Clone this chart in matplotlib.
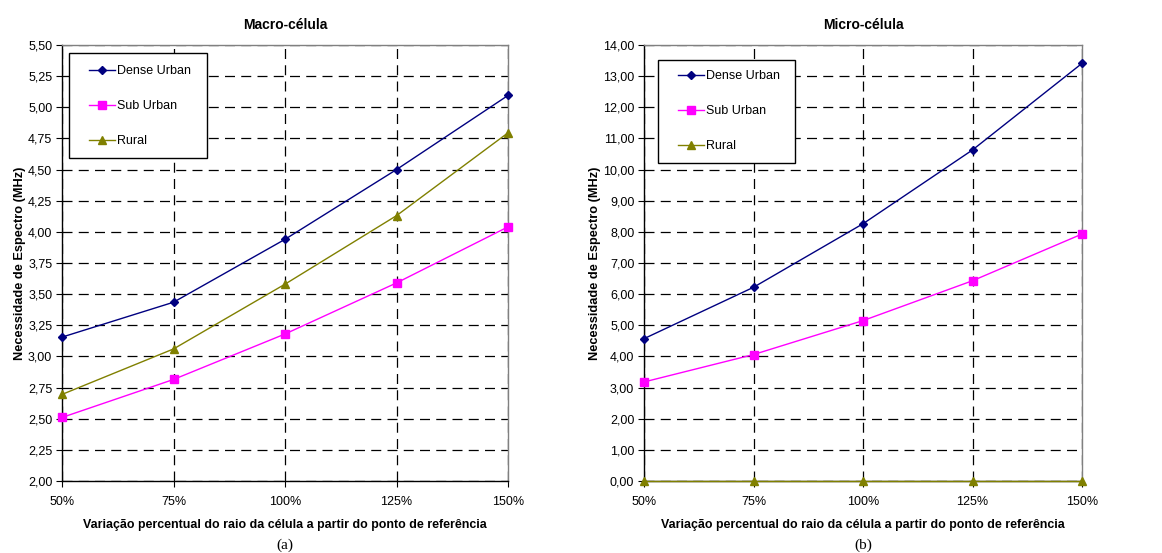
import matplotlib
matplotlib.use("Agg")
import matplotlib.pyplot as plt
from matplotlib.ticker import FuncFormatter, FixedLocator
from matplotlib.legend_handler import HandlerLine2D
from matplotlib.lines import Line2D
from matplotlib.patches import Rectangle

plt.rcParams['font.family'] = ['Liberation Sans', 'DejaVu Sans']

# Cell radius variation relative to the reference point
categories = ["50%", "75%", "100%", "125%", "150%"]

# Spectrum requirement (MHz) - macro cell
macro_dense_urban = [3.155, 3.435, 3.94, 4.50, 5.095]
macro_sub_urban = [2.51, 2.815, 3.18, 3.59, 4.04]
macro_rural = [2.695, 3.06, 3.58, 4.13, 4.795]

# Spectrum requirement (MHz) - micro cell
micro_dense_urban = [4.57, 6.22, 8.26, 10.63, 13.41]
micro_sub_urban = [3.18, 4.06, 5.15, 6.43, 7.93]
micro_rural = [0.0, 0.0, 0.0, 0.0, 0.0]

macro_yticks = [2.00, 2.25, 2.50, 2.75, 3.00, 3.25, 3.50, 3.75, 4.00, 4.25,
                4.50, 4.75, 5.00, 5.25, 5.50]
micro_yticks = list(range(0, 15))

series_names = ["Dense Urban", "Sub Urban", "Rural"]
colors = ["#000080", "#FF00FF", "#808000"]
markers = ["D", "s", "^"]
msizes = [4.5, 6, 5.5]

fig = plt.figure(figsize=(11.62, 5.53), dpi=100)
ax1 = fig.add_axes([62 / 1162, 72 / 553, 446 / 1162, 436 / 553])
ax2 = fig.add_axes([644 / 1162, 72 / 553, 438 / 1162, 436 / 553])

comma = FuncFormatter(lambda v, p: f"{v:.2f}".replace(".", ","))


def draw(ax, series, yticks, title, legend_anchor, box, caption):
    x = list(range(len(categories)))
    for vals, name, c, m, ms in zip(series, series_names, colors, markers, msizes):
        ax.plot(x, vals, color=c, marker=m, markersize=ms, linewidth=1.0,
                label=name, clip_on=False, zorder=3)
    ax.set_xlim(0, len(categories) - 1)
    ax.set_ylim(yticks[0], yticks[-1])
    ax.xaxis.set_major_locator(FixedLocator(x))
    ax.set_xticklabels(categories)
    ax.yaxis.set_major_locator(FixedLocator(yticks))
    ax.yaxis.set_major_formatter(comma)
    ax.grid(True, color="black", linestyle=(0, (8, 5)), linewidth=0.9)
    ax.set_axisbelow(True)
    for s in ("top", "right"):
        ax.spines[s].set_color("#808080")
        ax.spines[s].set_linewidth(1.0)
    for s in ("left", "bottom"):
        ax.spines[s].set_color("black")
        ax.spines[s].set_linewidth(1.0)
    ax.tick_params(axis="both", labelsize=9, direction="out", length=4,
                   width=0.8, color="black")
    ax.tick_params(axis="x", pad=6.5)
    ax.tick_params(axis="y", pad=3)
    ax.set_title(title, fontsize=10, fontweight="bold", pad=11.8)
    ax.set_xlabel("Variação percentual do raio da célula a partir do ponto de referência",
                  fontsize=8.9, fontweight="bold", labelpad=8.5)
    ax.set_ylabel("Necessidade de Espectro (MHz)", fontsize=9.2,
                  fontweight="bold", labelpad=1.5)

    # legend frame drawn as a plain rectangle, entries placed inside it
    x0, y0, x1, y1 = box
    ax.add_patch(Rectangle((x0, y0), x1 - x0, y1 - y0, transform=ax.transAxes,
                           facecolor="white", edgecolor="black", linewidth=1.0,
                           zorder=4, clip_on=False))
    leg = ax.legend(loc="center left", bbox_to_anchor=legend_anchor,
                    fontsize=9, frameon=False, borderaxespad=0, borderpad=0,
                    labelspacing=1.85, handlelength=2.1, handletextpad=0.15,
                    handler_map={Line2D: HandlerLine2D()})
    leg.set_zorder(5)
    ax.text(0.5, -0.148, caption, transform=ax.transAxes, ha="center",
            va="center", fontsize=11, family=["Liberation Serif", "DejaVu Serif"])


draw(ax1, [macro_dense_urban, macro_sub_urban, macro_rural], macro_yticks,
     "Macro-célula", (0.0605, 0.860), (0.0157, 0.7408, 0.325, 0.9817), "(a)")
draw(ax2, [micro_dense_urban, micro_sub_urban, micro_rural], micro_yticks,
     "Micro-célula", (0.0776, 0.8486), (0.032, 0.7294, 0.3447, 0.9656), "(b)")

fig.savefig("out.png", dpi=100)
